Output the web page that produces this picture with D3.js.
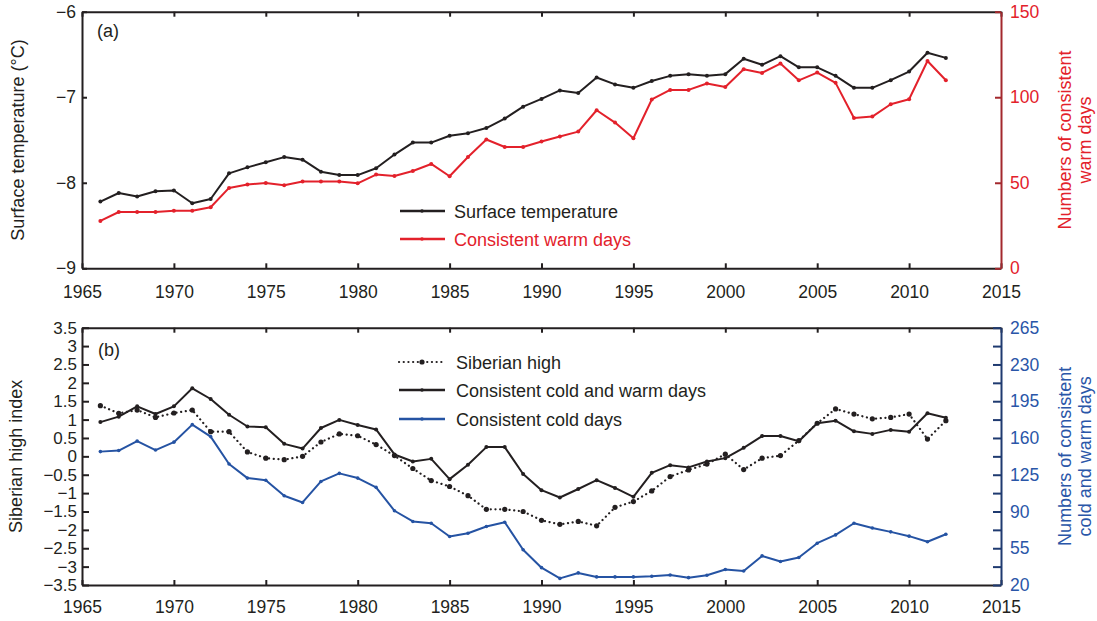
<!DOCTYPE html>
<html>
<head>
<meta charset="utf-8">
<script src="https://cdn.jsdelivr.net/npm/d3@7"></script>
<style>
  html, body { margin: 0; padding: 0; background: #fff; }
  svg text { font-family: "Liberation Sans", Arial, sans-serif; }
</style>
</head>
<body>
<svg id="chart" width="1097" height="621"></svg>
<script>
// ---------- data ----------
const years = [1966,1967,1968,1969,1970,1971,1972,1973,1974,1975,
  1976,1977,1978,1979,1980,1981,1982,1983,1984,1985,
  1986,1987,1988,1989,1990,1991,1992,1993,1994,1995,
  1996,1997,1998,1999,2000,2001,2002,2003,2004,2005,
  2006,2007,2008,2009,2010,2011,2012];

const surfaceTemp = [-8.22,-8.12,-8.16,-8.10,-8.09,-8.24,-8.19,-7.89,-7.82,-7.76,
  -7.70,-7.73,-7.87,-7.91,-7.91,-7.83,-7.67,-7.53,-7.53,-7.45,
  -7.42,-7.36,-7.25,-7.11,-7.02,-6.92,-6.95,-6.77,-6.85,-6.89,
  -6.81,-6.75,-6.73,-6.75,-6.73,-6.55,-6.62,-6.52,-6.65,-6.65,
  -6.75,-6.89,-6.89,-6.80,-6.70,-6.48,-6.54];

const warmDays = [27.7,32.9,32.9,32.9,33.7,33.7,35.7,47,49,49.9,
  48.5,50.7,50.7,50.7,49.7,54.8,54,56.9,61,53.8,
  65.1,75.3,70.9,70.9,74.1,77,79.9,92.4,85.2,76,
  98.7,104.3,104.3,108,106,116.4,114.2,119.7,109.9,114.4,
  108.4,87.9,88.7,95.9,98.8,121.2,109.9];

const siberianHigh = [1.38,1.17,1.26,1.06,1.18,1.26,0.67,0.67,0.12,-0.05,
  -0.09,0.0,0.39,0.61,0.56,0.32,0.02,-0.33,-0.66,-0.82,
  -1.07,-1.44,-1.44,-1.50,-1.74,-1.85,-1.77,-1.89,-1.39,-1.23,
  -0.94,-0.55,-0.37,-0.21,0.06,-0.36,-0.05,0.02,0.43,0.90,
  1.29,1.15,1.02,1.06,1.15,0.47,0.97];

const coldWarmDays = [175.1,180.3,190.1,182.8,190.1,207.3,197.1,182.1,170.9,170.2,
  154.4,149.9,169.5,177.2,172.3,168.1,144.3,137.6,140.1,120.8,
  134.5,151.3,151.3,125.7,110.3,103.3,111.4,119.8,112.4,104,
  126.8,134.1,132,137.6,140.8,150.6,161.8,161.8,156.9,174,
  176.5,166.3,163.9,167.7,166,183.5,179.3];

const coldDays = [147,148,157,148.5,156,172.7,161.3,135.2,121.8,119.8,
  105,98.6,118.6,126.3,121.8,113,90.7,80.5,78.8,66.2,
  69.3,75.7,79.8,53.6,36.5,26.3,31.5,27.7,27.7,27.7,
  28.4,29.5,27,29.3,34.7,33.3,47.7,42.4,46.2,59.8,
  67.7,78.8,74.3,70.6,66.5,61.2,68.3];

const xTicks = [1965,1970,1975,1980,1985,1990,1995,2000,2005,2010,2015];
const tempTicks = [-9,-8,-7,-6];
const warmTicks = [0,50,100,150];
const shTicks = [-3.5,-3,-2.5,-2,-1.5,-1,-0.5,0,0.5,1,1.5,2,2.5,3,3.5];
const daysTicks = [20,37.5,55,72.5,90,107.5,125,142.5,160,177.5,195,212.5,230,247.5,265];
const daysLabels = [20,55,90,125,160,195,230,265];

// ---------- styles ----------
const BLACK = "#231f20", RED = "#e3212b", DRED = "#a3282d", BLUE = "#2553a3", DBLUE = "#1f3a70", RLAB = "#e3212b", BLAB = "#2a56a8";
const FS = 17.5;

const svg = d3.select("#chart");
const L = 82, R = 1001;
const x = d3.scaleLinear().domain([1965, 2015]).range([L, R]);

// Panel geometry
const aTop = 11.7, aBot = 268.3;
const bTop = 327.7, bBot = 585;

const yT = d3.scaleLinear().domain([-9, -6]).range([aBot, aTop]);
const yW = d3.scaleLinear().domain([0, 150]).range([aBot, aTop]);
const yS = d3.scaleLinear().domain([-3.5, 3.5]).range([bBot, bTop]);
const yD = d3.scaleLinear().domain([20, 265]).range([bBot, bTop]);

function styleAxis(g, color, labelColor, fs) {
  g.selectAll("path.domain").attr("stroke", color).attr("stroke-width", 2);
  g.selectAll(".tick line").attr("stroke", color).attr("stroke-width", 2);
  g.selectAll(".tick text").attr("fill", labelColor).style("font-size", (fs || FS) + "px")
    .style("font-family", '"Liberation Sans", Arial, sans-serif');
}

// ---------- Panel (a) ----------
const gA = svg.append("g");
gA.append("g").attr("transform", `translate(0,${aBot})`)
  .call(d3.axisBottom(x).tickValues(xTicks).tickFormat(d3.format("d")).tickSizeInner(-5).tickSizeOuter(0).tickPadding(17))
  .call(g => styleAxis(g, BLACK, BLACK));
gA.append("g").attr("transform", `translate(0,${aTop})`)
  .call(d3.axisTop(x).tickValues(xTicks).tickFormat("").tickSizeInner(-5).tickSizeOuter(0))
  .call(g => styleAxis(g, BLACK, BLACK));
gA.append("g").attr("transform", `translate(${L},0)`)
  .call(d3.axisLeft(yT).tickValues(tempTicks).tickFormat(d3.format("d")).tickSizeInner(-5).tickSizeOuter(0).tickPadding(6))
  .call(g => styleAxis(g, BLACK, BLACK));
gA.append("g").attr("transform", `translate(${R},0)`)
  .call(d3.axisRight(yW).tickValues(warmTicks).tickFormat(d3.format("d")).tickSizeInner(-6).tickSizeOuter(0).tickPadding(9))
  .call(g => styleAxis(g, DRED, RLAB));

const lineT = d3.line().x((d, i) => x(years[i])).y(d => yT(d));
const lineW = d3.line().x((d, i) => x(years[i])).y(d => yW(d));

gA.append("path").datum(warmDays).attr("d", lineW).attr("fill", "none").attr("stroke", RED).attr("stroke-width", 2).attr("stroke-linejoin", "round");
gA.selectAll("circle.w").data(warmDays).join("circle").attr("class", "w")
  .attr("cx", (d, i) => x(years[i])).attr("cy", d => yW(d)).attr("r", 2).attr("fill", RED);
gA.append("path").datum(surfaceTemp).attr("d", lineT).attr("fill", "none").attr("stroke", BLACK).attr("stroke-width", 2).attr("stroke-linejoin", "round");
gA.selectAll("circle.t").data(surfaceTemp).join("circle").attr("class", "t")
  .attr("cx", (d, i) => x(years[i])).attr("cy", d => yT(d)).attr("r", 2).attr("fill", BLACK);

gA.append("text").attr("x", 97).attr("y", 37).text("(a)").style("font-size", "18px").attr("fill", BLACK);

// legend (a)
const legA = [
  { label: "Surface temperature", color: BLACK, tc: BLACK, y: 211 },
  { label: "Consistent warm days", color: RED, tc: RED, y: 239 }
];
legA.forEach(d => {
  gA.append("line").attr("x1", 400).attr("x2", 445).attr("y1", d.y).attr("y2", d.y).attr("stroke", d.color).attr("stroke-width", 2.5);
  gA.append("circle").attr("cx", 422).attr("cy", d.y).attr("r", 1.8).attr("fill", d.color);
  gA.append("text").attr("x", 454).attr("y", d.y + 6.5).text(d.label).style("font-size", "18px").attr("fill", d.tc);
});

// axis titles (a)
svg.append("text").attr("transform", `translate(24,${(aTop + aBot) / 2}) rotate(-90)`).attr("text-anchor", "middle")
  .style("font-size", "18px").attr("fill", BLACK).text("Surface temperature (°C)");
svg.append("text").attr("transform", `translate(1071,${(aTop + aBot) / 2}) rotate(-90)`).attr("text-anchor", "middle")
  .style("font-size", "18px").attr("fill", RLAB).text("Numbers of consistent");
svg.append("text").attr("transform", `translate(1091,${(aTop + aBot) / 2}) rotate(-90)`).attr("text-anchor", "middle")
  .style("font-size", "18px").attr("fill", RLAB).text("warm days");

// ---------- Panel (b) ----------
const gB = svg.append("g");
gB.append("g").attr("transform", `translate(0,${bBot})`)
  .call(d3.axisBottom(x).tickValues(xTicks).tickFormat(d3.format("d")).tickSizeInner(-5).tickSizeOuter(0).tickPadding(16))
  .call(g => styleAxis(g, BLACK, BLACK));
gB.append("g").attr("transform", `translate(0,${bTop})`)
  .call(d3.axisTop(x).tickValues(xTicks).tickFormat("").tickSizeInner(-5).tickSizeOuter(0))
  .call(g => styleAxis(g, BLACK, BLACK));
gB.append("g").attr("transform", `translate(${L},0)`)
  .call(d3.axisLeft(yS).tickValues(shTicks).tickFormat(d3.format("")).tickSizeInner(-7).tickSizeOuter(0).tickPadding(5))
  .call(g => styleAxis(g, BLACK, BLACK, 17));
gB.append("g").attr("transform", `translate(${R},0)`)
  .call(d3.axisRight(yD).tickValues(daysTicks).tickFormat(d => daysLabels.includes(d) ? d3.format("d")(d) : "").tickSizeInner(-8).tickSizeOuter(0).tickPadding(9))
  .call(g => styleAxis(g, DBLUE, BLAB));

const lineS = d3.line().x((d, i) => x(years[i])).y(d => yS(d));
const lineD = d3.line().x((d, i) => x(years[i])).y(d => yD(d));

gB.append("path").datum(coldDays).attr("d", lineD).attr("fill", "none").attr("stroke", BLUE).attr("stroke-width", 2).attr("stroke-linejoin", "round");
gB.selectAll("circle.c").data(coldDays).join("circle").attr("class", "c")
  .attr("cx", (d, i) => x(years[i])).attr("cy", d => yD(d)).attr("r", 1.8).attr("fill", BLUE);
gB.append("path").datum(siberianHigh).attr("d", lineS).attr("fill", "none").attr("stroke", BLACK).attr("stroke-width", 2.2)
  .attr("stroke-dasharray", "0.1,4.6").attr("stroke-linecap", "round");
gB.selectAll("circle.s").data(siberianHigh).join("circle").attr("class", "s")
  .attr("cx", (d, i) => x(years[i])).attr("cy", d => yS(d)).attr("r", 2.6).attr("fill", BLACK);
gB.append("path").datum(coldWarmDays).attr("d", lineD).attr("fill", "none").attr("stroke", BLACK).attr("stroke-width", 2).attr("stroke-linejoin", "round");
gB.selectAll("circle.cw").data(coldWarmDays).join("circle").attr("class", "cw")
  .attr("cx", (d, i) => x(years[i])).attr("cy", d => yD(d)).attr("r", 2).attr("fill", BLACK);

gB.append("text").attr("x", 98).attr("y", 356).text("(b)").style("font-size", "18px").attr("fill", BLACK);

// legend (b)
const legB = [
  { label: "Siberian high", color: BLACK, y: 362, dotted: true },
  { label: "Consistent cold and warm days", color: BLACK, y: 390, dotted: false },
  { label: "Consistent cold days", color: BLUE, y: 419, dotted: false }
];
legB.forEach(d => {
  const ln = gB.append("line").attr("x1", 399).attr("x2", 445).attr("y1", d.y).attr("y2", d.y).attr("stroke", d.color).attr("stroke-width", d.dotted ? 2.2 : 2.5);
  if (d.dotted) ln.attr("stroke-dasharray", "0.1,4.6").attr("stroke-linecap", "round");
  gB.append("circle").attr("cx", 422).attr("cy", d.y).attr("r", d.dotted ? 2.6 : 1.8).attr("fill", d.color);
  gB.append("text").attr("x", 456).attr("y", d.y + 6.5).text(d.label).style("font-size", "18px").attr("fill", BLACK);
});

// axis titles (b)
svg.append("text").attr("transform", `translate(22,${(bTop + bBot) / 2}) rotate(-90)`).attr("text-anchor", "middle")
  .style("font-size", "18px").attr("fill", BLACK).text("Siberian high index");
svg.append("text").attr("transform", `translate(1071,${(bTop + bBot) / 2}) rotate(-90)`).attr("text-anchor", "middle")
  .style("font-size", "18px").attr("fill", BLAB).text("Numbers of consistent");
svg.append("text").attr("transform", `translate(1091,${(bTop + bBot) / 2}) rotate(-90)`).attr("text-anchor", "middle")
  .style("font-size", "18px").attr("fill", BLAB).text("cold and warm days");
</script>
</body>
</html>
